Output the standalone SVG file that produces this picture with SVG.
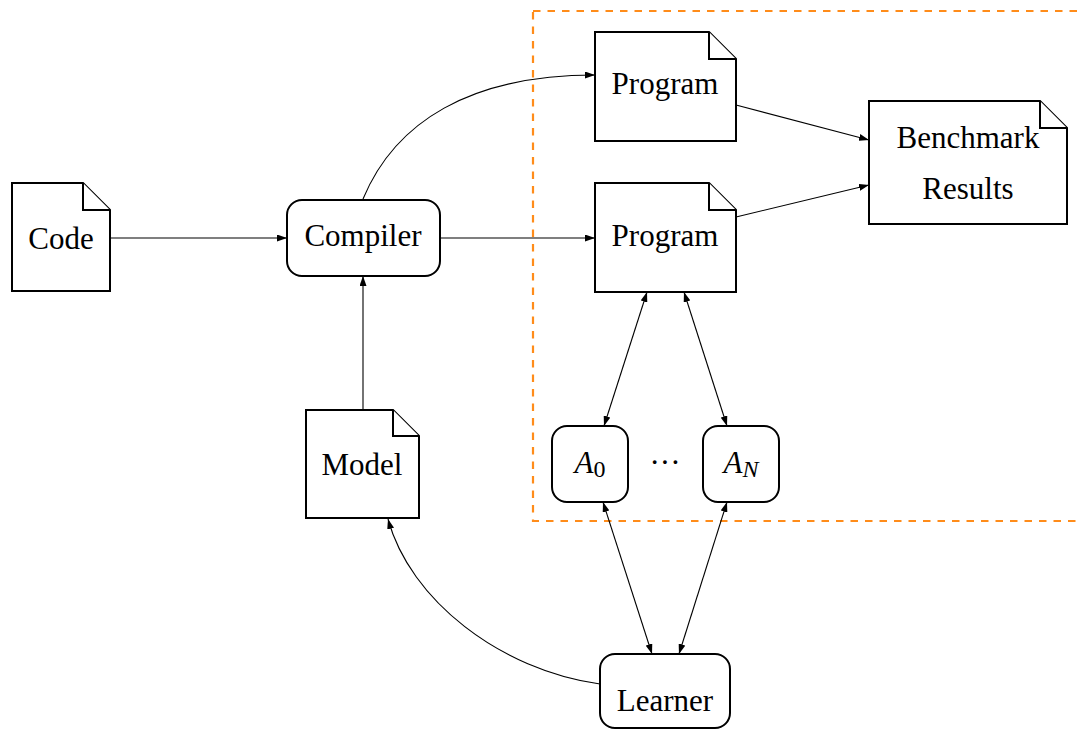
<svg xmlns="http://www.w3.org/2000/svg" width="1082" height="731" viewBox="0 0 1082 731">
<style>
.node{fill:#fff;stroke:#000;stroke-width:2;stroke-linejoin:miter}
.fold{fill:#fff;stroke:#000;stroke-width:2}
.t{font-family:"Liberation Serif","Times New Roman",serif;font-size:31px;fill:#000;text-anchor:middle}
.c{fill:none;stroke:#000;stroke-width:1.1}
.region{fill:none;stroke:#ff8c1a;stroke-width:2.2;stroke-dasharray:7.5 7}
</style>
<defs>
<marker id="ah" viewBox="0 0 10 7" refX="10" refY="3.5" markerWidth="10" markerHeight="7" markerUnits="userSpaceOnUse" orient="auto-start-reverse">
<path d="M0,0 L10,3.5 L0,7 Z" fill="#000"/>
</marker>
</defs>
<rect class="region" x="533" y="11" width="560" height="510"/>
<g id="connectors">
<path class="c" d="M110,238 L287,238" marker-end="url(#ah)"/>
<path class="c" d="M440,238 L595,238" marker-end="url(#ah)"/>
<path class="c" d="M363,199 C395,122 470,75 595,75" marker-end="url(#ah)"/>
<path class="c" d="M736,105 L869,140" marker-end="url(#ah)"/>
<path class="c" d="M736,217 L869,185" marker-end="url(#ah)"/>
<path class="c" d="M363,410 L363,276" marker-end="url(#ah)"/>
<path class="c" d="M647,292 L604,426" marker-start="url(#ah)" marker-end="url(#ah)"/>
<path class="c" d="M684,292 L727,426" marker-start="url(#ah)" marker-end="url(#ah)"/>
<path class="c" d="M603,502 L652,654" marker-start="url(#ah)" marker-end="url(#ah)"/>
<path class="c" d="M727,502 L679,654" marker-start="url(#ah)" marker-end="url(#ah)"/>
<path class="c" d="M600,684 C500,670 410,600 388,519" marker-end="url(#ah)"/>
</g>
<g id="code">
<path class="node" d="M12,183 L83,183 L110,210 L110,291 L12,291 Z"/>
<path class="fold" d="M83,183 L83,210 L110,210"/>
<text class="t" x="61" y="249">Code</text>
</g>
<g id="compiler">
<rect class="node" x="287" y="200" width="153" height="76" rx="15"/>
<text class="t" x="363" y="246">Compiler</text>
</g>
<g id="program1">
<path class="node" d="M595,32 L709,32 L736,59 L736,141 L595,141 Z"/>
<path class="fold" d="M709,32 L709,59 L736,59"/>
<text class="t" x="665" y="94">Program</text>
</g>
<g id="program2">
<path class="node" d="M595,183 L709,183 L736,210 L736,292 L595,292 Z"/>
<path class="fold" d="M709,183 L709,210 L736,210"/>
<text class="t" x="665" y="246">Program</text>
</g>
<g id="benchmark">
<path class="node" d="M869,101 L1040,101 L1067,128 L1067,224 L869,224 Z"/>
<path class="fold" d="M1040,101 L1040,128 L1067,128"/>
<text class="t" x="968" y="148">Benchmark</text>
<text class="t" x="968" y="199">Results</text>
</g>
<g id="model">
<path class="node" d="M306,410 L393,410 L419,436 L419,518 L306,518 Z"/>
<path class="fold" d="M393,410 L393,436 L419,436"/>
<text class="t" x="362" y="475">Model</text>
</g>
<g id="a0">
<rect class="node" x="552" y="426" width="76" height="76" rx="15"/>
<text class="t" x="590" y="473"><tspan font-style="italic">A</tspan><tspan font-size="24" dy="4">0</tspan></text>
</g>
<text class="t" x="665" y="473">···</text>
<g id="an">
<rect class="node" x="703" y="426" width="76" height="76" rx="15"/>
<text class="t" x="741" y="473"><tspan font-style="italic">A</tspan><tspan font-size="24" font-style="italic" dy="4">N</tspan></text>
</g>
<g id="learner">
<rect class="node" x="600" y="654" width="130" height="74" rx="15"/>
<text class="t" x="665" y="711">Learner</text>
</g>
</svg>
